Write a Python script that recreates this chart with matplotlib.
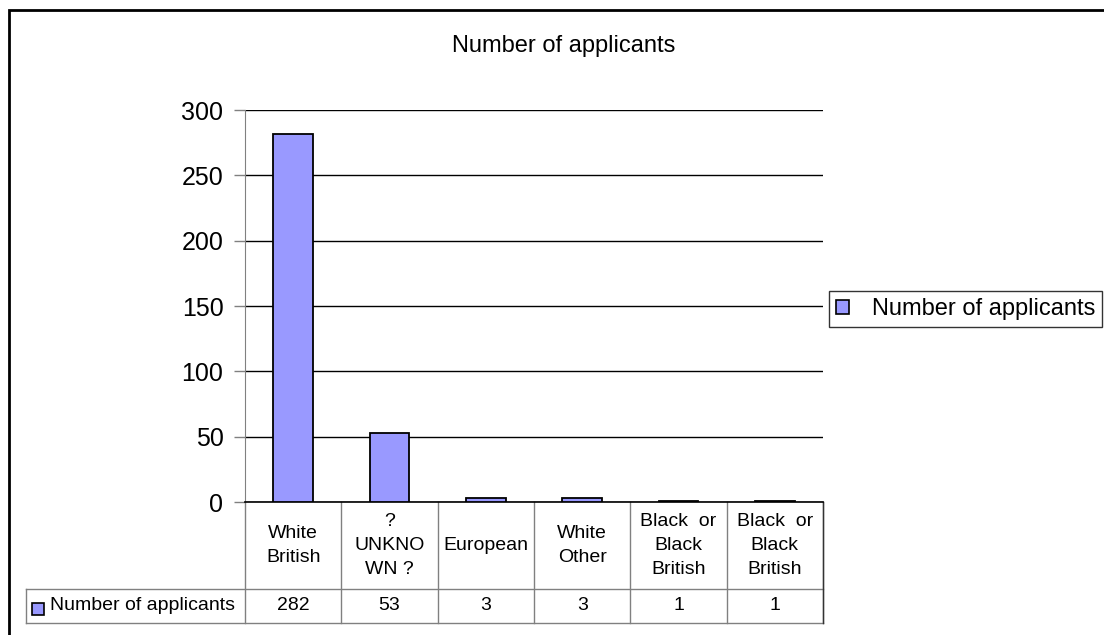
import matplotlib.pyplot as plt
from matplotlib.patches import Rectangle, Patch

plt.rcParams['font.family'] = ['Liberation Sans', 'DejaVu Sans']

# data
categories = ["White\nBritish", "?\nUNKNO\nWN ?", "European", "White\nOther",
              "Black  or\nBlack\nBritish", "Black  or\nBlack\nBritish"]
applicants = [282, 53, 3, 3, 1, 1]
series_name = "Number of applicants"

bar_color = "#9999FF"
grey = "#808080"

W, H = 1104, 635
fig = plt.figure(figsize=(W / 100, H / 100), dpi=100)

# plot area in pixels: x 245..823, y 110..502
L, R, T, B = 245, 823, 110, 502
ax = fig.add_axes([L / W, 1 - B / H, (R - L) / W, (B - T) / H])

n = len(categories)
xs = list(range(n))
ax.bar(xs, applicants, width=0.415, color=bar_color, edgecolor="black", linewidth=1.3, zorder=3)

ax.set_xlim(-0.5, n - 0.5)
ax.set_ylim(0, 300)
ax.set_yticks(range(0, 301, 50))
ax.yaxis.grid(True, color="black", linewidth=1)
ax.set_axisbelow(True)
ax.set_xticks([])
ax.tick_params(axis="y", direction="out", length=8, width=1, color=grey,
               labelsize=18, pad=7.5)
for s in ["top", "right"]:
    ax.spines[s].set_visible(False)
ax.spines["left"].set_color(grey)
ax.spines["bottom"].set_color("black")
ax.spines["bottom"].set_linewidth(1.2)


# data table under the plot, drawn in axes fractions
def fx(px):
    return (px - L) / (R - L)


def fy(py):
    return (B - py) / (B - T)


row1, row2 = fy(589), fy(623)
left_cell = fx(26)
kw = dict(transform=ax.transAxes, clip_on=False, color=grey, linewidth=1)
for i in range(n + 1):
    ax.plot([i / n, i / n], [0, row2], **kw)
ax.plot([left_cell, 1], [row1, row1], **kw)
ax.plot([left_cell, 1], [row2, row2], **kw)
ax.plot([left_cell, left_cell], [row1, row2], **kw)
ax.plot([1, 1], [0, row2], transform=ax.transAxes, clip_on=False, color="#333333", linewidth=1)

for i, (cat, v) in enumerate(zip(categories, applicants)):
    cx = (i + 0.5) / n
    ax.text(cx, row1 / 2, cat, transform=ax.transAxes, ha="center", va="center",
            fontsize=14, linespacing=1.5)
    ax.text(cx, (row1 + row2) / 2, str(v), transform=ax.transAxes, ha="center",
            va="center", fontsize=14)

ax.add_patch(Rectangle((fx(32), fy(615)), fx(44) - fx(32), fy(603) - fy(615),
                       transform=ax.transAxes, clip_on=False, facecolor=bar_color,
                       edgecolor="black", linewidth=1.2))
ax.text(fx(50), (row1 + row2) / 2, series_name, transform=ax.transAxes,
        ha="left", va="center", fontsize=14)

# title
fig.text(0.5 * (450 + 678) / W, 1 - 46 / H, series_name, ha="center", va="center", fontsize=17)

# legend
leg = fig.legend(handles=[Patch(facecolor=bar_color, edgecolor="black", linewidth=1.2)],
                 labels=[series_name], loc="center left",
                 bbox_to_anchor=(829 / W, 1 - 309 / H), fontsize=17, frameon=True,
                 fancybox=False, handlelength=0.55, handleheight=0.55,
                 handletextpad=0.95, borderpad=0.3, borderaxespad=0)
leg.get_frame().set_edgecolor("black")
leg.get_frame().set_linewidth(1)

# outer chart border
fig.patches.append(Rectangle((9 / W, -0.1), 1.2, 1.1 - 10 / H, transform=fig.transFigure,
                             fill=False, edgecolor="black", linewidth=2))

fig.savefig("out.png", dpi=100)
